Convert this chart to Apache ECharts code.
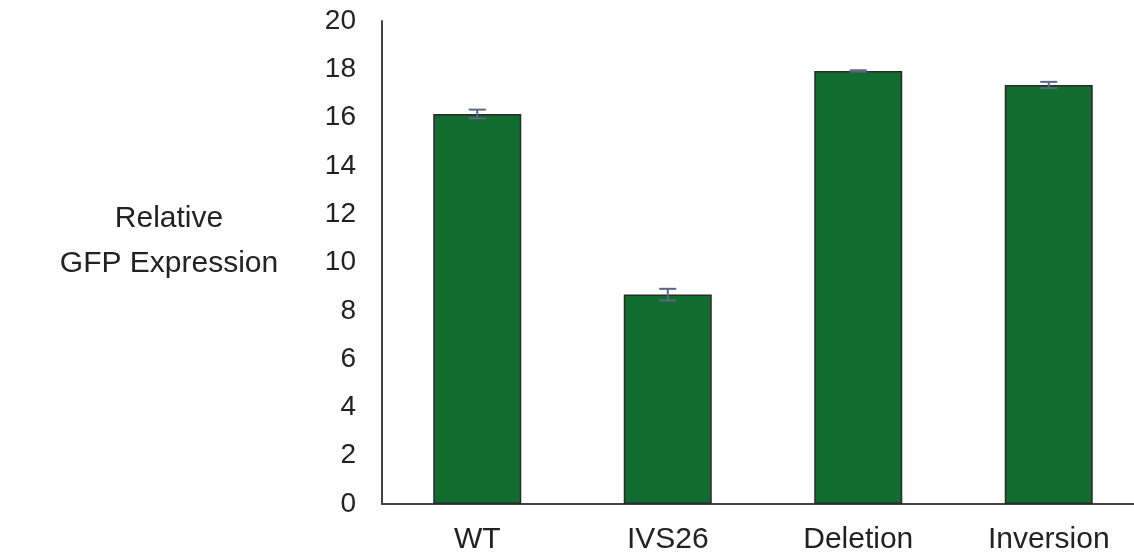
<!DOCTYPE html>
<html>
<head>
<meta charset="utf-8">
<script src="https://cdn.jsdelivr.net/npm/echarts@6/dist/echarts.min.js"></script>
<style>
  html, body { margin: 0; padding: 0; background: #fff; }
  #chart { width: 1134px; height: 557px; }
</style>
</head>
<body>
<div id="chart"></div>
<script>
// Construct labels and measured relative GFP expression
const categories = ['WT', 'IVS26', 'Deletion', 'Inversion'];
const expression = [16.15, 8.67, 17.93, 17.35];
const errors = [0.18, 0.24, 0.03, 0.13];
const yTicks = [0, 2, 4, 6, 8, 10, 12, 14, 16, 18, 20];
const yTitle = 'Relative\nGFP Expression';

const chart = echarts.init(document.getElementById('chart'));

const errorData = categories.map((c, i) => [i, expression[i] - errors[i], expression[i] + errors[i]]);

chart.setOption({
  animation: false,
  title: {
    text: yTitle,
    left: 169,
    top: 196,
    padding: 0,
    textAlign: 'center',
    textStyle: {
      color: '#222', fontSize: 30, lineHeight: 45, fontWeight: 'normal',
      fontFamily: 'Liberation Sans, Arial, sans-serif'
    }
  },
  grid: { left: 382, top: 21, height: 483, width: 762, outerBoundsMode: 'none', containLabel: false },
  xAxis: {
    type: 'category',
    data: categories,
    axisLine: { lineStyle: { color: '#444', width: 2 } },
    axisTick: { show: false },
    axisLabel: {
      color: '#222', fontSize: 30, margin: 21,
      fontFamily: 'Liberation Sans, Arial, sans-serif'
    }
  },
  yAxis: {
    type: 'value',
    min: yTicks[0],
    max: yTicks[yTicks.length - 1],
    interval: 2,
    axisLine: { show: true, lineStyle: { color: '#444', width: 2 } },
    axisTick: { show: false },
    splitLine: { show: false },
    axisLabel: {
      color: '#222', fontSize: 28, margin: 26,
      fontFamily: 'Liberation Sans, Arial, sans-serif'
    }
  },
  series: [
    {
      type: 'bar',
      data: expression,
      barWidth: 88,
      itemStyle: { color: '#116c2f', borderColor: '#2a2a2a', borderWidth: 1.5 },
      z: 2
    },
    {
      type: 'custom',
      data: errorData,
      z: 3,
      renderItem: function (params, api) {
        const x = api.value(0);
        const lo = api.coord([x, api.value(1)]);
        const hi = api.coord([x, api.value(2)]);
        const half = 8.5;
        const style = { stroke: '#5b6785', lineWidth: 2 };
        return {
          type: 'group',
          children: [
            { type: 'line', shape: { x1: lo[0], y1: lo[1], x2: hi[0], y2: hi[1] }, style: style },
            { type: 'line', shape: { x1: lo[0] - half, y1: lo[1], x2: lo[0] + half, y2: lo[1] }, style: style },
            { type: 'line', shape: { x1: hi[0] - half, y1: hi[1], x2: hi[0] + half, y2: hi[1] }, style: style }
          ]
        };
      }
    }
  ]
});
</script>
</body>
</html>
